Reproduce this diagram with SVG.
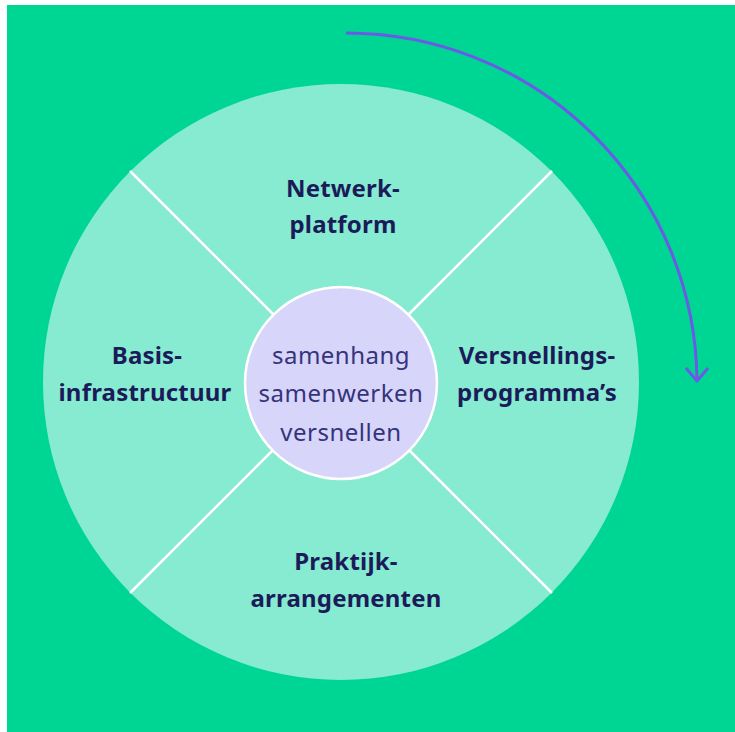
<svg xmlns="http://www.w3.org/2000/svg" width="735" height="732" viewBox="0 0 735 732">
<defs>
<style>
.lbl{font-family:"Noto Sans","Liberation Sans",sans-serif;font-weight:700;font-size:24px;letter-spacing:0.2px;fill:#1c1b5a;text-anchor:middle}
.ctr{font-family:"Noto Sans","Liberation Sans",sans-serif;font-weight:400;font-size:24px;letter-spacing:0.5px;fill:#35347a;text-anchor:middle}
.div{stroke:#ffffff;stroke-width:2.5}
</style>
</defs>
<rect x="0" y="0" width="735" height="732" fill="#ffffff"/>
<rect x="7" y="5" width="728" height="727" fill="#00d693"/>
<g id="wheel">
<circle cx="341" cy="382" r="298" fill="#86ebd0"/>
</g>
<g id="connectors">
<line class="div" x1="130" y1="171" x2="273" y2="314"/>
<line class="div" x1="552" y1="171" x2="409" y2="314"/>
<line class="div" x1="130" y1="593" x2="273" y2="450"/>
<line class="div" x1="552" y1="593" x2="409" y2="450"/>
<path d="M346 33 A351 351 0 0 1 697 380" fill="none" stroke="#6a5ae6" stroke-width="3"/>
<path d="M686 368 L697 381 L708 368" fill="none" stroke="#6a5ae6" stroke-width="3" stroke-linejoin="round"/>
</g>
<g id="netwerkplatform">
<text class="lbl" x="343" y="197">Netwerk-</text>
<text class="lbl" x="343" y="233">platform</text>
</g>
<g id="basisinfrastructuur">
<text class="lbl" x="147" y="364">Basis-</text>
<text class="lbl" x="145" y="401">infrastructuur</text>
</g>
<g id="versnellingsprogrammas">
<text class="lbl" x="537" y="364">Versnellings-</text>
<text class="lbl" x="537" y="401">programma’s</text>
</g>
<g id="praktijkarrangementen">
<text class="lbl" x="346" y="570">Praktijk-</text>
<text class="lbl" x="346" y="607">arrangementen</text>
</g>
<g id="center">
<circle cx="341" cy="383" r="96" fill="#d8d5fb" stroke="#ffffff" stroke-width="2.5"/>
<text class="ctr" x="341" y="364">samenhang</text>
<text class="ctr" x="341" y="402">samenwerken</text>
<text class="ctr" x="341" y="441">versnellen</text>
</g>
</svg>
